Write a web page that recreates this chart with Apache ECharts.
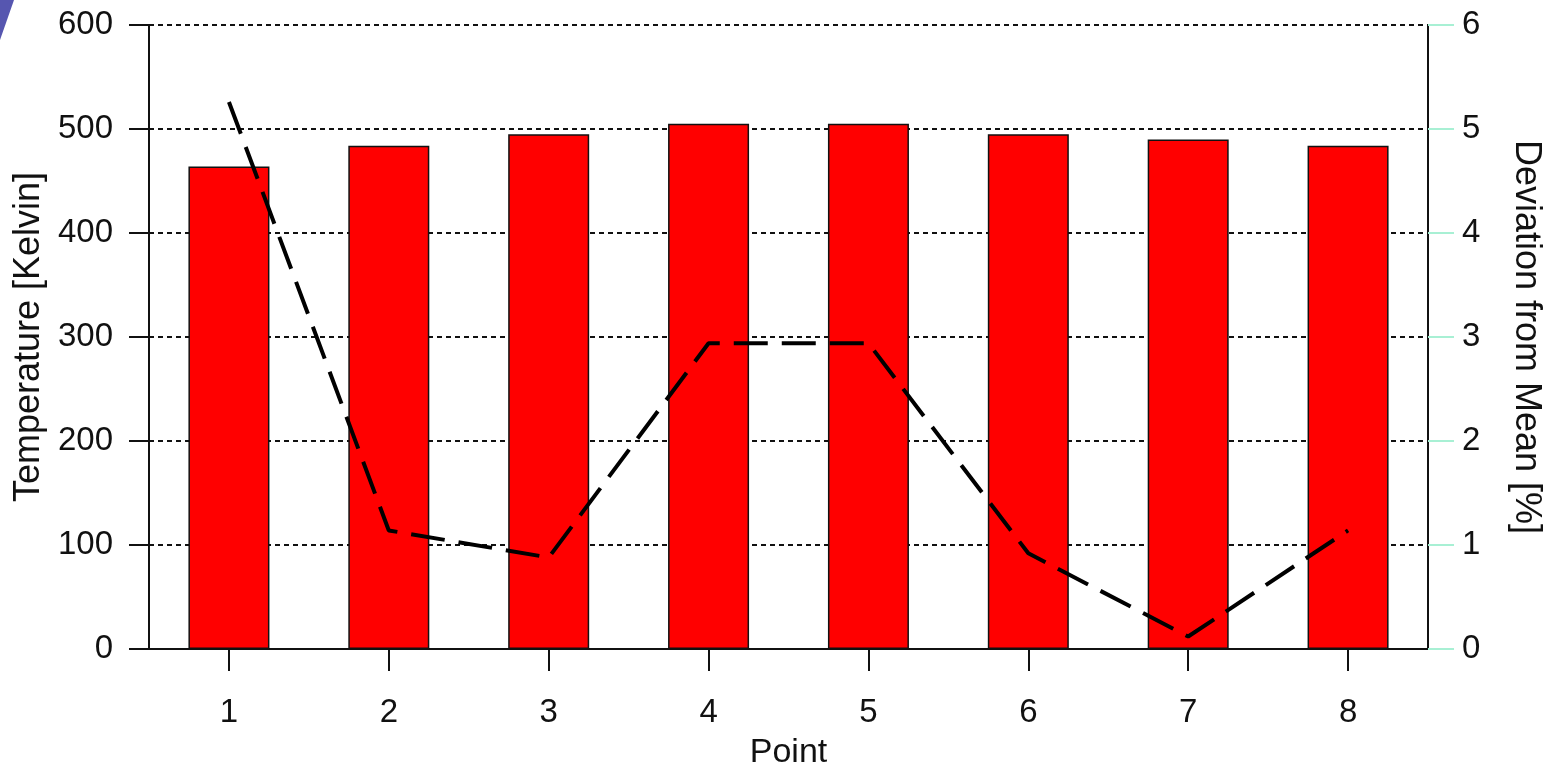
<!DOCTYPE html>
<html>
<head>
<meta charset="utf-8">
<script src="https://cdn.jsdelivr.net/npm/echarts@6/dist/echarts.min.js"></script>
<style>html,body{margin:0;padding:0;background:#fff;}#c{width:1549px;height:771px;}</style>
</head>
<body>
<div id="c"></div>
<script>
var categories = ['1','2','3','4','5','6','7','8'];
var temperature = [464, 484, 495, 505, 505, 495, 490, 484];
var deviation = [5.26, 1.14, 0.88, 2.94, 2.94, 0.92, 0.12, 1.14];
var leftAxisName = 'Temperature [Kelvin]';
var rightAxisName = 'Deviation from Mean [%]';
var xAxisName = 'Point';

var font = 'Liberation Sans, Arial, Helvetica, sans-serif';
var chart = echarts.init(document.getElementById('c'));
chart.setOption({
  animation: false,
  backgroundColor: '#fff',
  graphic: [{
    type: 'polygon',
    shape: { points: [[0,0],[14,0],[0,40]] },
    style: { fill: '#5656b0' },
    z: 100
  }],
  grid: { left: 149, right: 121, top: 25, bottom: 122, containLabel: false, outerBoundsMode: 'none' },
  xAxis: {
    type: 'category',
    data: categories,
    name: xAxisName,
    nameLocation: 'middle',
    nameGap: 87,
    nameTextStyle: { fontFamily: font, fontSize: 34, color: '#111' },
    axisLine: { show: true, lineStyle: { color: '#111', width: 2 } },
    axisTick: { show: true, alignWithLabel: true, interval: 0, length: 22, lineStyle: { color: '#111', width: 2 } },
    axisLabel: { fontFamily: font, fontSize: 33, color: '#111', margin: 47 }
  },
  yAxis: [{
    type: 'value',
    min: 0, max: 600, interval: 100,
    name: leftAxisName,
    nameLocation: 'middle',
    nameGap: 99,
    nameTextStyle: { fontFamily: font, fontSize: 36, color: '#111' },
    axisLine: { show: true, lineStyle: { color: '#111', width: 2 } },
    axisTick: { show: true, length: 20, lineStyle: { color: '#111', width: 2 } },
    axisLabel: { fontFamily: font, fontSize: 33, color: '#111', margin: 36 },
    splitLine: { show: true, lineStyle: { color: '#111', type: [5, 4], width: 2 } }
  }, {
    type: 'value',
    min: 0, max: 6, interval: 1,
    name: rightAxisName,
    nameLocation: 'middle',
    nameGap: 80,
    nameRotate: -90,
    nameTextStyle: { fontFamily: font, fontSize: 36, color: '#111' },
    axisLine: { show: true, lineStyle: { color: '#111', width: 2 } },
    axisTick: { show: true, length: 26, lineStyle: { color: '#a8f0d4', width: 2 } },
    axisLabel: { fontFamily: font, fontSize: 33, color: '#111', margin: 34 },
    splitLine: { show: false }
  }],
  series: [{
    type: 'bar',
    data: temperature,
    yAxisIndex: 0,
    barWidth: 81,
    itemStyle: { color: '#ff0000', borderColor: '#111', borderWidth: 1.5 },
    z: 2
  }, {
    type: 'line',
    data: deviation,
    yAxisIndex: 1,
    symbol: 'none',
    lineStyle: { color: '#000', width: 4, type: [34, 14] },
    z: 3
  }]
});
</script>
</body>
</html>
